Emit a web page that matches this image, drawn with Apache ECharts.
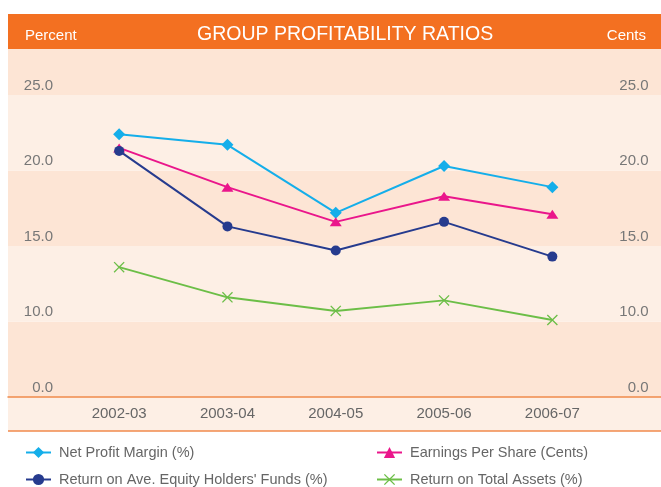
<!DOCTYPE html>
<html>
<head>
<meta charset="utf-8">
<script src="https://cdn.jsdelivr.net/npm/echarts@6/dist/echarts.min.js"></script>
<style>
  html, body { margin: 0; padding: 0; background: #fff; }
  #chart { width: 661px; height: 487px; }
</style>
</head>
<body>
<div id="chart"></div>
<script>
// categories and values
var years = ['2002-03', '2003-04', '2004-05', '2005-06', '2006-07'];
var netProfitMargin = [22.4, 21.7, 17.2, 20.3, 18.9];
var earningsPerShare = [21.5, 18.9, 16.6, 18.3, 17.1];
var returnOnEquity = [21.3, 16.3, 14.7, 16.6, 14.3];
var returnOnAssets = [13.6, 11.6, 10.7, 11.4, 10.1];

// broken axis: the lowest tick stands for 0.0
var yTicks = [5, 10, 15, 20, 25];
var yTickLabels = ['0.0', '10.0', '15.0', '20.0', '25.0'];

var FONT = "'Liberation Sans', Arial, sans-serif";
var crossPath = 'path://M1,0L6,5L11,0L12,1L7,6L12,11L11,12L6,7L1,12L0,11L5,6L0,1Z';

function tickLabel(v) {
  var i = yTicks.indexOf(Math.round(v * 100) / 100);
  return i < 0 ? '' : yTickLabels[i];
}

// one legend per entry so the 2x2 block sits where it should
function legendAt(name, left, top) {
  return {
    left: left, top: top, itemWidth: 25, itemHeight: 14,
    data: [name],
    textStyle: { color: '#666', fontSize: 14.5, padding: [0, 0, 0, 3] }
  };
}

var myChart = echarts.init(document.getElementById('chart'));

var option = {
  backgroundColor: '#fff',
  animation: false,
  textStyle: { fontFamily: FONT },
  graphic: [
    { type: 'rect', z: -10, shape: { x: 8, y: 14, width: 653, height: 35 }, style: { fill: '#F37021' } },
    { type: 'rect', z: -10, shape: { x: 8, y: 397, width: 653, height: 34 }, style: { fill: '#FDEFE5' } },
    { type: 'line', z: -5, shape: { x1: 8, y1: 431, x2: 661, y2: 431 }, style: { stroke: '#F08A4B', lineWidth: 1.5 } }
  ],
  title: [
    { text: 'Percent', left: 20, top: 23, textStyle: { color: '#fff', fontSize: 15, fontWeight: 'normal', fontFamily: FONT } },
    { text: 'GROUP PROFITABILITY RATIOS', left: 192, top: 20, textStyle: { color: '#fff', fontSize: 19.5, fontWeight: 'normal', fontFamily: FONT } },
    { text: 'Cents', right: 10, top: 23, textStyle: { color: '#fff', fontSize: 15, fontWeight: 'normal', fontFamily: FONT } }
  ],
  legend: [
    legendAt('Net Profit Margin (%)', 20, 440),
    legendAt("Return on Ave. Equity Holders' Funds (%)", 20, 467),
    legendAt('Earnings Per Share (Cents)', 371, 440),
    legendAt('Return on Total Assets (%)', 371, 467)
  ],
  grid: [
    { left: 8, right: 0, top: 49, bottom: 90 },
    { left: 65, right: 54.5, top: 49, bottom: 90 }
  ],
  xAxis: [
    {
      gridIndex: 0, type: 'value', min: 0, max: 1,
      axisLine: { show: true, onZero: false, lineStyle: { color: '#F08A4B', width: 1.5 } },
      axisTick: { show: false }, axisLabel: { show: false }, splitLine: { show: false }
    },
    {
      gridIndex: 1, type: 'category', data: years, boundaryGap: true,
      axisLine: { show: false }, axisTick: { show: false }, splitLine: { show: false },
      axisLabel: { color: '#666', fontSize: 15, margin: 9 }
    }
  ],
  yAxis: [
    {
      gridIndex: 0, type: 'value', min: 5, max: 28.05, interval: 5,
      axisLine: { show: false }, axisTick: { show: false }, axisLabel: { show: false },
      splitLine: { show: false },
      splitArea: { show: true, areaStyle: { color: ['#FDE5D5', '#FDEFE5'] } }
    },
    {
      gridIndex: 1, type: 'value', position: 'left', min: 5, max: 28.05, interval: 5,
      axisLine: { show: false }, axisTick: { show: false }, splitLine: { show: false },
      axisLabel: { color: '#777', fontSize: 15, margin: 12, verticalAlign: 'bottom', padding: [0, 0, 2, 0], showMaxLabel: false, formatter: tickLabel }
    },
    {
      gridIndex: 1, type: 'value', position: 'right', min: 5, max: 28.05, interval: 5,
      axisLine: { show: false }, axisTick: { show: false }, splitLine: { show: false },
      axisLabel: { color: '#777', fontSize: 15, margin: 42, align: 'right', verticalAlign: 'bottom', padding: [0, 0, 2, 0], showMaxLabel: false, formatter: tickLabel }
    }
  ],
  series: [
    {
      name: 'Net Profit Margin (%)', type: 'line', xAxisIndex: 1, yAxisIndex: 1,
      data: netProfitMargin, symbol: 'diamond', symbolSize: 12,
      itemStyle: { color: '#14AEEA' }, lineStyle: { color: '#14AEEA', width: 2 }
    },
    {
      name: 'Earnings Per Share (Cents)', type: 'line', xAxisIndex: 1, yAxisIndex: 1,
      data: earningsPerShare, symbol: 'triangle', symbolSize: [12, 9],
      itemStyle: { color: '#EA168B' }, lineStyle: { color: '#EA168B', width: 2 }
    },
    {
      name: "Return on Ave. Equity Holders' Funds (%)", type: 'line', xAxisIndex: 1, yAxisIndex: 1,
      data: returnOnEquity, symbol: 'circle', symbolSize: 10,
      itemStyle: { color: '#263B8E' }, lineStyle: { color: '#263B8E', width: 2 }
    },
    {
      name: 'Return on Total Assets (%)', type: 'line', xAxisIndex: 1, yAxisIndex: 1,
      data: returnOnAssets, symbol: crossPath, symbolSize: 11,
      itemStyle: { color: '#6CBE47' }, lineStyle: { color: '#6CBE47', width: 2 }
    }
  ]
};

option && myChart.setOption(option);
</script>
</body>
</html>
